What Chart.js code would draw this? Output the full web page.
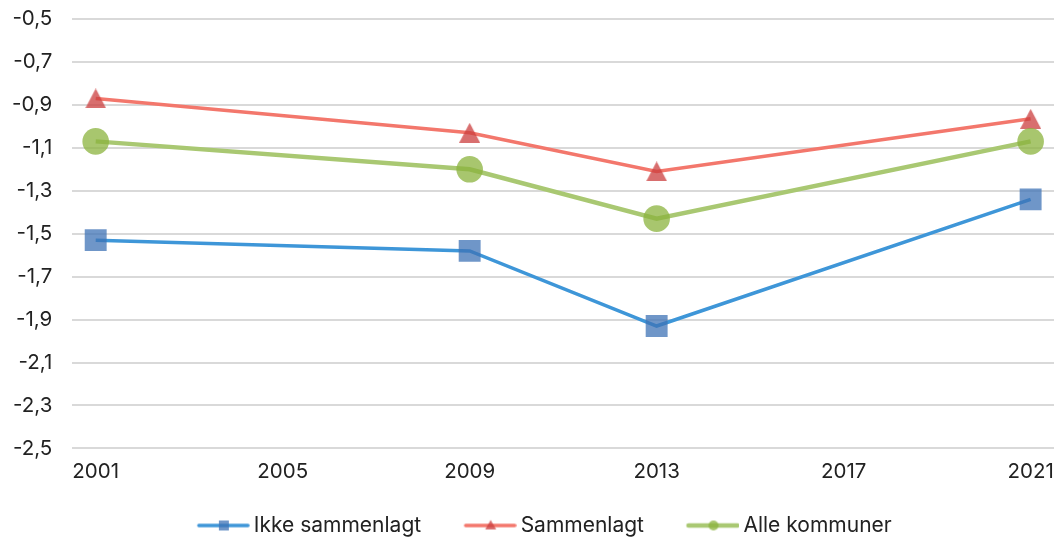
<!DOCTYPE html>
<html>
<head>
<meta charset="utf-8">
<script src="https://cdn.jsdelivr.net/npm/chart.js@4/dist/chart.umd.min.js"></script>
<style>
html,body{margin:0;padding:0;background:#fff;}
#wrap{width:1057px;height:540px;position:relative;}
</style>
</head>
<body>
<div id="wrap"><canvas id="c" width="1057" height="540"></canvas></div>
<script>
const years = [2001, 2009, 2013, 2021];
const ikkeSammenlagt = [-1.53, -1.58, -1.93, -1.34];
const sammenlagt = [-0.87, -1.03, -1.21, -0.965];
const alleKommuner = [-1.07, -1.20, -1.43, -1.07];
const xTicks = [2001, 2005, 2009, 2013, 2017, 2021];
const seriesNames = ['Ikke sammenlagt', 'Sammenlagt', 'Alle kommuner'];

function legendIcon(lineColor, markColor, shape, lw) {
  const c = document.createElement('canvas');
  c.width = 98; c.height = 14;
  const g = c.getContext('2d');
  const x0 = 47, x1 = 97, xm = (x0 + x1) / 2;
  g.strokeStyle = lineColor; g.lineWidth = lw; g.lineCap = 'round';
  g.beginPath(); g.moveTo(x0, 7); g.lineTo(x1 - 1, 7); g.stroke();
  g.fillStyle = markColor;
  if (shape === 'rect') { g.fillRect(xm - 5, 2, 10, 10); }
  else if (shape === 'triangle') { g.beginPath(); g.moveTo(xm, 1.5); g.lineTo(xm + 5.5, 11); g.lineTo(xm - 5.5, 11); g.closePath(); g.fill(); }
  else { g.beginPath(); g.arc(xm, 7, 5, 0, Math.PI * 2); g.fill(); }
  return c;
}

// triangle marker centred on its bounding box
function triangleMarker(color) {
  const c = document.createElement('canvas');
  c.width = 21; c.height = 20;
  const g = c.getContext('2d');
  g.fillStyle = color;
  g.beginPath(); g.moveTo(10.5, 0); g.lineTo(21, 20); g.lineTo(0, 20); g.closePath(); g.fill();
  return c;
}

const styles = [
  {line: '#3e96d8', mark: 'rgba(63,115,182,0.75)', shape: 'rect', r: 15.5, lw: 3.5},
  {line: '#f3776c', mark: 'rgba(203,62,62,0.75)', shape: 'triangle', r: 11.5, lw: 3.5},
  {line: '#a9c872', mark: 'rgba(139,179,62,0.75)', shape: 'circle', r: 13.3, lw: 4.5}
];
const allData = [ikkeSammenlagt, sammenlagt, alleKommuner];
const icons = styles.map(s => legendIcon(s.line, s.mark, s.shape, s.lw));
const triImg = triangleMarker(styles[1].mark);

const datasets = allData.map((vals, i) => ({
  label: seriesNames[i],
  data: years.map((y, j) => ({x: y, y: vals[j]})),
  borderColor: styles[i].line,
  backgroundColor: styles[i].mark,
  borderWidth: styles[i].lw,
  pointStyle: styles[i].shape === 'triangle' ? triImg : styles[i].shape,
  pointRadius: styles[i].r,
  pointHoverRadius: styles[i].r,
  pointBorderWidth: 0,
  pointBackgroundColor: styles[i].mark,
  tension: 0,
  order: 3 - i
}));

const legendTweak = {
  id: 'legendTweak',
  beforeUpdate(chart) {
    const lg = chart.legend;
    if (lg && !lg._tweaked) {
      const f = lg.fit;
      lg.fit = function () { f.call(this); this.height -= 6; };
      lg._tweaked = true;
    }
  },
  afterLayout(chart) {
    if (chart.legend) { chart.legend.left -= 16; }
  }
};

Chart.defaults.font.family = 'Inter, "Noto Sans", sans-serif';
Chart.defaults.color = '#222';

new Chart(document.getElementById('c'), {
  type: 'line',
  data: {datasets},
  plugins: [legendTweak],
  options: {
    responsive: false,
    animation: false,
    layout: {autoPadding: false, padding: {left: 12, right: 3, top: 19, bottom: 0}},
    plugins: {
      tooltip: {enabled: false},
      legend: {
        position: 'bottom',
        title: {display: true, text: '', font: {size: 1, lineHeight: 1}, padding: {top: 26, bottom: 0}},
        labels: {
          usePointStyle: true,
          pointStyleWidth: 85,
          padding: 4,
          font: {size: 21, lineHeight: 1},
          color: '#222',
          generateLabels: (chart) => chart.data.datasets.map((d, i) => ({
            text: d.label,
            pointStyle: icons[i],
            fillStyle: d.borderColor,
            strokeStyle: d.borderColor,
            lineWidth: 0,
            datasetIndex: i,
            hidden: false,
            fontColor: '#222'
          }))
        }
      }
    },
    scales: {
      x: {
        type: 'linear',
        min: 2000.5,
        max: 2021.5,
        afterBuildTicks: (ax) => { ax.ticks = xTicks.map(v => ({value: v})); },
        afterFit: (ax) => { ax.paddingLeft = 0; ax.paddingRight = 0; },
        grid: {display: true, drawOnChartArea: false, drawTicks: true, tickLength: 11, color: 'rgba(0,0,0,0)', tickColor: 'rgba(0,0,0,0)'},
        border: {display: false},
        ticks: {font: {size: 20.5}, color: '#222', padding: 0, maxRotation: 0, callback: v => String(v)}
      },
      y: {
        min: -2.5,
        max: -0.5,
        afterBuildTicks: (ax) => { const t = []; for (let k = 0; k <= 10; k++) t.push({value: -2.5 + k * 0.2}); ax.ticks = t; },
        grid: {color: '#d9d9d9', lineWidth: 2, drawTicks: true, tickLength: 20, tickColor: 'rgba(0,0,0,0)'},
        border: {display: false},
        ticks: {font: {size: 20.5}, color: '#222', padding: 0, callback: v => v.toFixed(1).replace('.', ',')}
      }
    }
  }
});
</script>
</body>
</html>
